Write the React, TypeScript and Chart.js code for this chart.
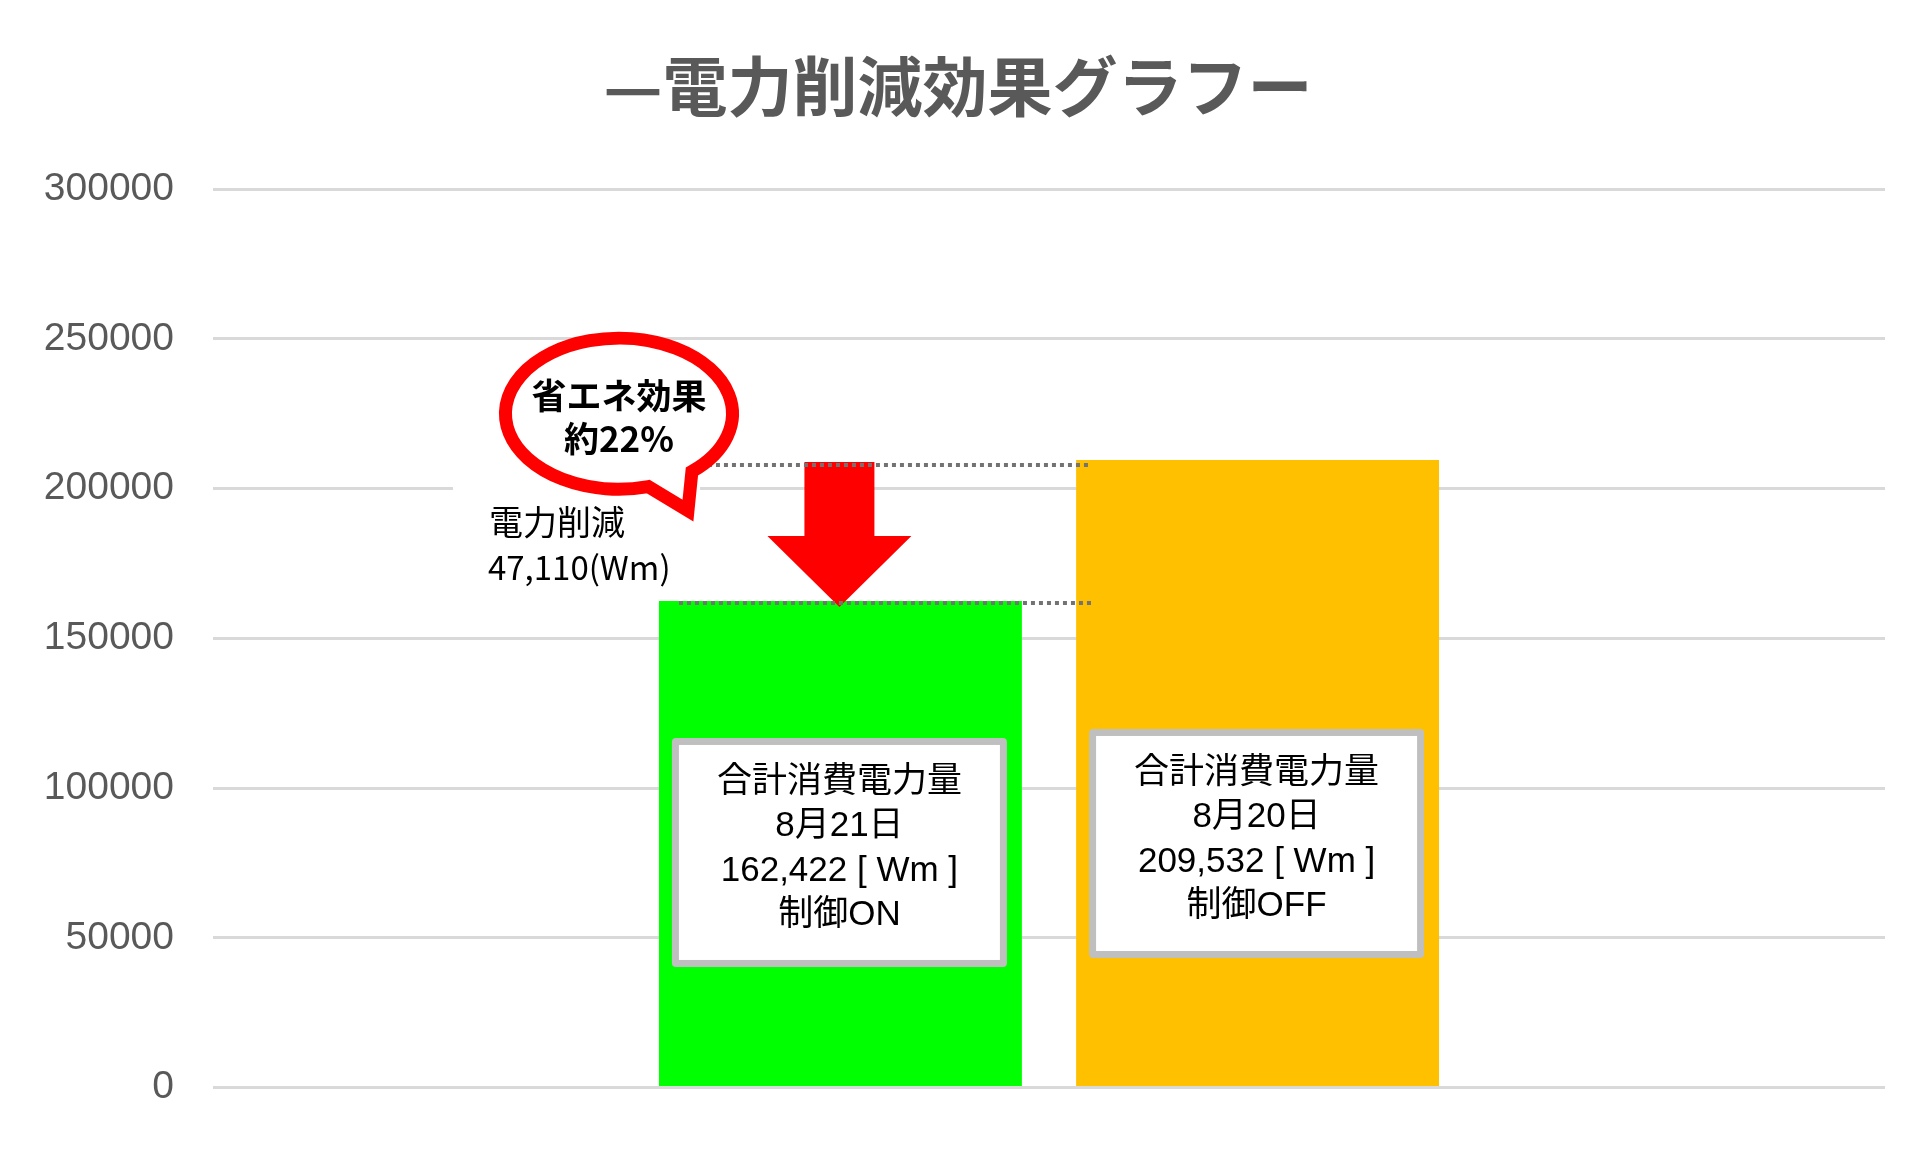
import React, { useEffect, useRef } from "react";
import Chart from "chart.js/auto";

const categories = [""];
const seriesNames = ["8月21日", "8月20日"];
const seriesValues = [162422, 209532];
const seriesColors = ["#00ff00", "#ffc000"];
const controlStates = ["制御ON", "制御OFF"];
const yTicks = [0, 50000, 100000, 150000, 200000, 250000, 300000];
const titleText = "—電力削減効果グラフー";

const CJK = '"Noto Sans CJK JP", sans-serif';
const LATIN_CJK = '"Liberation Sans", "Noto Sans CJK JP", sans-serif';

// callouts, arrow, title and the value boxes drawn on top of the bars
const notesPlugin = {
  id: "savingsNotes",
  afterDatasetsDraw(chart: any) {
    const ctx: CanvasRenderingContext2D = chart.ctx;
    const y = chart.scales.y;
    const on = chart.getDatasetMeta(0).data[0];
    const off = chart.getDatasetMeta(1).data[0];
    if (!on || !off) return;
    const onLeft = on.x - on.width / 2;
    const offLeft = off.x - off.width / 2;
    const yOn = y.getPixelForValue(seriesValues[0]);
    const yOff = y.getPixelForValue(seriesValues[1]);
    const diff = seriesValues[1] - seriesValues[0];
    const pct = Math.round((diff / seriesValues[1]) * 100);

    ctx.save();

    // title
    ctx.fillStyle = "#595959";
    ctx.textAlign = "center";
    ctx.textBaseline = "middle";
    ctx.font = `bold 65px ${CJK}`;
    ctx.fillText(titleText, chart.width / 2 - 3, 86);

    // white text box behind the reduction note
    ctx.fillStyle = "#ffffff";
    ctx.fillRect(onLeft - 206, yOff + 18, 247, yOn - yOff - 25);

    // red down arrow
    const ax = on.x - 1;
    ctx.fillStyle = "#ff0000";
    ctx.beginPath();
    ctx.moveTo(ax - 35, yOff + 2);
    ctx.lineTo(ax + 35, yOff + 2);
    ctx.lineTo(ax + 35, yOn - 65);
    ctx.lineTo(ax + 72, yOn - 65);
    ctx.lineTo(ax, yOn + 6);
    ctx.lineTo(ax - 72, yOn - 65);
    ctx.lineTo(ax - 35, yOn - 65);
    ctx.closePath();
    ctx.fill();

    // dotted guide lines
    ctx.strokeStyle = "#737373";
    ctx.lineWidth = 4;
    ctx.setLineDash([4, 4]);
    ctx.beginPath();
    ctx.moveTo(onLeft + 41, yOff + 5);
    ctx.lineTo(offLeft + 13, yOff + 5);
    ctx.moveTo(onLeft + 20, yOn + 2);
    ctx.lineTo(offLeft + 16, yOn + 2);
    ctx.stroke();
    ctx.setLineDash([]);

    // speech bubble
    const cx = onLeft - 40;
    const cy = y.getPixelForValue(225000);
    const rx = 113.5;
    const ry = 75.5;
    ctx.beginPath();
    ctx.ellipse(cx, cy, rx, ry, 0, (75 * Math.PI) / 180, ((360 + 50) * Math.PI) / 180);
    ctx.lineTo(cx + 69, cy + 97);
    ctx.closePath();
    ctx.fillStyle = "#ffffff";
    ctx.fill();
    ctx.strokeStyle = "#ff0000";
    ctx.lineWidth = 13;
    ctx.lineJoin = "miter";
    ctx.stroke();

    ctx.fillStyle = "#000000";
    ctx.textAlign = "center";
    ctx.textBaseline = "middle";
    ctx.font = `bold 35px ${CJK}`;
    ctx.fillText("省エネ効果", cx, cy - 18);
    ctx.fillText(`約${pct}%`, cx, cy + 25);

    // reduction note
    ctx.textAlign = "left";
    ctx.font = `34px ${CJK}`;
    ctx.fillText("電力削減", onLeft - 170, yOn - 79);
    ctx.font = `33px ${CJK}`;
    ctx.fillText(`${diff.toLocaleString("en-US")}(Wm)`, onLeft - 171, yOn - 34);

    // value boxes
    const boxCenters = [78500, 81500];
    [on, off].forEach((bar: any, i: number) => {
      const bx = bar.x - 1;
      const by = y.getPixelForValue(boxCenters[i]);
      const w = 335;
      const h = 229;
      const left = bx - w / 2;
      const top = by - h / 2;
      ctx.fillStyle = "#bfbfbf";
      ctx.beginPath();
      ctx.roundRect(left, top, w, h, 4);
      ctx.fill();
      ctx.fillStyle = "#ffffff";
      ctx.fillRect(left + 7, top + 7, w - 14, h - 14);

      const lines = [
        "合計消費電力量",
        seriesNames[i],
        `${seriesValues[i].toLocaleString("en-US")} [ Wm ]`,
        controlStates[i],
      ];
      ctx.fillStyle = "#000000";
      ctx.textAlign = "center";
      ctx.textBaseline = "middle";
      ctx.font = `35px ${LATIN_CJK}`;
      lines.forEach((t, k) => ctx.fillText(t, bx, top + 44 + k * 44.5));
    });

    ctx.restore();
  },
};

const App: React.FC = () => {
  const canvasRef = useRef<HTMLCanvasElement>(null);
  const chartRef = useRef<Chart | null>(null);

  useEffect(() => {
    document.body.style.margin = "0";
    if (!canvasRef.current) return;
    const ctx = canvasRef.current.getContext("2d");
    if (!ctx) return;

    chartRef.current = new Chart(ctx, {
      type: "bar",
      data: {
        labels: categories,
        datasets: seriesNames.map((name, i) => ({
          label: name,
          data: [seriesValues[i]],
          backgroundColor: seriesColors[i],
          borderWidth: 0,
          categoryPercentage: 0.499,
          barPercentage: 0.87,
        })),
      },
      options: {
        animation: false,
        responsive: true,
        maintainAspectRatio: false,
        devicePixelRatio: 1,
        layout: { padding: { left: 0, right: 37, bottom: 61, top: 189 } },
        plugins: {
          legend: { display: false },
          tooltip: { enabled: false },
          title: { display: false },
        },
        scales: {
          x: { display: false },
          y: {
            min: yTicks[0],
            max: yTicks[yTicks.length - 1],
            afterFit: (scale: any) => {
              scale.width = 213;
            },
            afterBuildTicks: (scale: any) => {
              scale.ticks = yTicks.map((v) => ({ value: v }));
            },
            ticks: {
              color: "#595959",
              padding: 39,
              font: { family: '"Liberation Sans", sans-serif', size: 39 },
              callback: (v: any) => String(v),
            },
            grid: { color: "#d9d9d9", lineWidth: 3, drawTicks: false },
            border: { display: false },
          },
        },
      },
      plugins: [notesPlugin],
    });

    return () => {
      if (chartRef.current) {
        chartRef.current.destroy();
        chartRef.current = null;
      }
    };
  }, []);

  return (
    <div style={{ width: "1922px", height: "1150px", background: "#ffffff" }}>
      <canvas ref={canvasRef}></canvas>
    </div>
  );
};

export default App;
